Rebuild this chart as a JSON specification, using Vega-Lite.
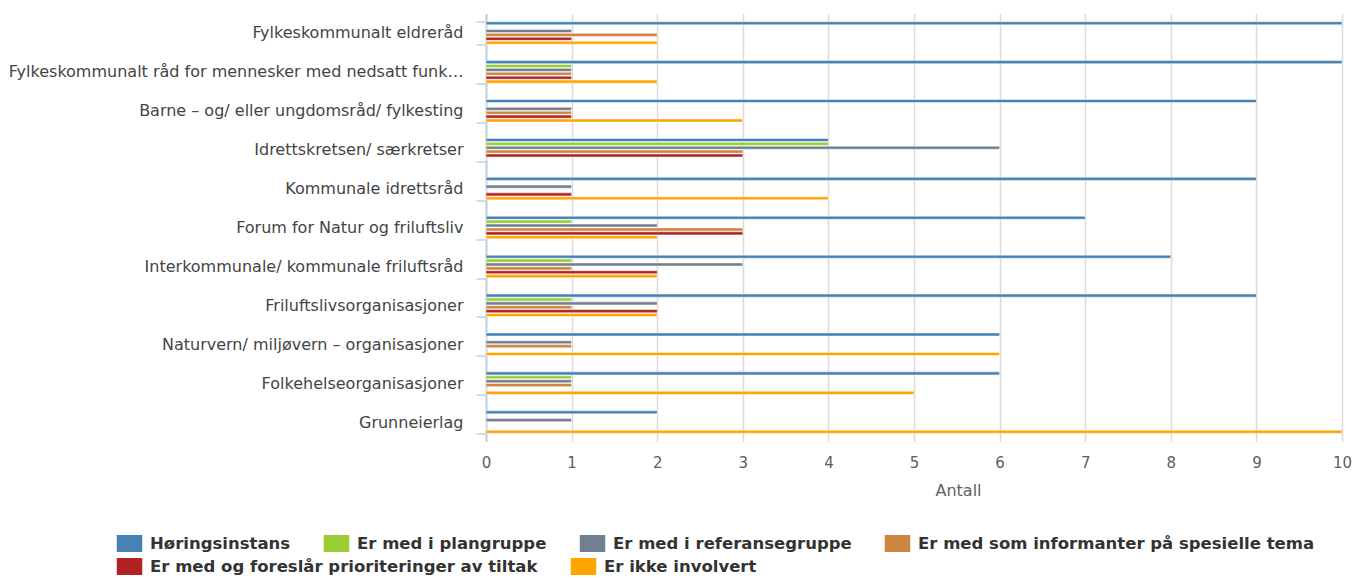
{
  "$schema": "https://vega.github.io/schema/vega-lite/v6.json",
  "width": 856,
  "height": 428,
  "autosize": "none",
  "padding": {"left": 486, "top": 13.5, "right": 17, "bottom": 136.5},
  "background": "white",
  "config": {
    "font": "DejaVu Sans",
    "view": {"stroke": null},
    "legend": {
      "title": null,
      "orient": "none",
      "direction": "horizontal",
      "padding": 0,
      "columnPadding": 32,
      "symbolType": "M-1.5,-1L1.5,-1L1.5,1L-1.5,1Z",
      "symbolSize": 289,
      "symbolStrokeWidth": 0,
      "symbolOpacity": 1,
      "labelFontSize": 16.5,
      "labelFontWeight": "bold",
      "labelColor": "#333333",
      "labelLimit": 600,
      "labelOffset": 12
    }
  },
  "datasets": {
    "rows": [
      {"k": "Fylkeskommunalt eldreråd", "t": "Høringsinstans", "v": 10},
      {"k": "Fylkeskommunalt eldreråd", "t": "Er med i plangruppe", "v": 0},
      {"k": "Fylkeskommunalt eldreråd", "t": "Er med i referansegruppe", "v": 1},
      {"k": "Fylkeskommunalt eldreråd", "t": "Er med som informanter på spesielle tema", "v": 2},
      {"k": "Fylkeskommunalt eldreråd", "t": "Er med og foreslår prioriteringer av tiltak", "v": 1},
      {"k": "Fylkeskommunalt eldreråd", "t": "Er ikke involvert", "v": 2},
      {"k": "Fylkeskommunalt råd for mennesker med nedsatt funksjonsevne", "t": "Høringsinstans", "v": 10},
      {"k": "Fylkeskommunalt råd for mennesker med nedsatt funksjonsevne", "t": "Er med i plangruppe", "v": 1},
      {"k": "Fylkeskommunalt råd for mennesker med nedsatt funksjonsevne", "t": "Er med i referansegruppe", "v": 1},
      {"k": "Fylkeskommunalt råd for mennesker med nedsatt funksjonsevne", "t": "Er med som informanter på spesielle tema", "v": 1},
      {"k": "Fylkeskommunalt råd for mennesker med nedsatt funksjonsevne", "t": "Er med og foreslår prioriteringer av tiltak", "v": 1},
      {"k": "Fylkeskommunalt råd for mennesker med nedsatt funksjonsevne", "t": "Er ikke involvert", "v": 2},
      {"k": "Barne – og/ eller ungdomsråd/ fylkesting", "t": "Høringsinstans", "v": 9},
      {"k": "Barne – og/ eller ungdomsråd/ fylkesting", "t": "Er med i plangruppe", "v": 0},
      {"k": "Barne – og/ eller ungdomsråd/ fylkesting", "t": "Er med i referansegruppe", "v": 1},
      {"k": "Barne – og/ eller ungdomsråd/ fylkesting", "t": "Er med som informanter på spesielle tema", "v": 1},
      {"k": "Barne – og/ eller ungdomsråd/ fylkesting", "t": "Er med og foreslår prioriteringer av tiltak", "v": 1},
      {"k": "Barne – og/ eller ungdomsråd/ fylkesting", "t": "Er ikke involvert", "v": 3},
      {"k": "Idrettskretsen/ særkretser", "t": "Høringsinstans", "v": 4},
      {"k": "Idrettskretsen/ særkretser", "t": "Er med i plangruppe", "v": 4},
      {"k": "Idrettskretsen/ særkretser", "t": "Er med i referansegruppe", "v": 6},
      {"k": "Idrettskretsen/ særkretser", "t": "Er med som informanter på spesielle tema", "v": 3},
      {"k": "Idrettskretsen/ særkretser", "t": "Er med og foreslår prioriteringer av tiltak", "v": 3},
      {"k": "Idrettskretsen/ særkretser", "t": "Er ikke involvert", "v": 0},
      {"k": "Kommunale idrettsråd", "t": "Høringsinstans", "v": 9},
      {"k": "Kommunale idrettsråd", "t": "Er med i plangruppe", "v": 0},
      {"k": "Kommunale idrettsråd", "t": "Er med i referansegruppe", "v": 1},
      {"k": "Kommunale idrettsråd", "t": "Er med som informanter på spesielle tema", "v": 0},
      {"k": "Kommunale idrettsråd", "t": "Er med og foreslår prioriteringer av tiltak", "v": 1},
      {"k": "Kommunale idrettsråd", "t": "Er ikke involvert", "v": 4},
      {"k": "Forum for Natur og friluftsliv", "t": "Høringsinstans", "v": 7},
      {"k": "Forum for Natur og friluftsliv", "t": "Er med i plangruppe", "v": 1},
      {"k": "Forum for Natur og friluftsliv", "t": "Er med i referansegruppe", "v": 2},
      {"k": "Forum for Natur og friluftsliv", "t": "Er med som informanter på spesielle tema", "v": 3},
      {"k": "Forum for Natur og friluftsliv", "t": "Er med og foreslår prioriteringer av tiltak", "v": 3},
      {"k": "Forum for Natur og friluftsliv", "t": "Er ikke involvert", "v": 2},
      {"k": "Interkommunale/ kommunale friluftsråd", "t": "Høringsinstans", "v": 8},
      {"k": "Interkommunale/ kommunale friluftsråd", "t": "Er med i plangruppe", "v": 1},
      {"k": "Interkommunale/ kommunale friluftsråd", "t": "Er med i referansegruppe", "v": 3},
      {"k": "Interkommunale/ kommunale friluftsråd", "t": "Er med som informanter på spesielle tema", "v": 1},
      {"k": "Interkommunale/ kommunale friluftsråd", "t": "Er med og foreslår prioriteringer av tiltak", "v": 2},
      {"k": "Interkommunale/ kommunale friluftsråd", "t": "Er ikke involvert", "v": 2},
      {"k": "Friluftslivsorganisasjoner", "t": "Høringsinstans", "v": 9},
      {"k": "Friluftslivsorganisasjoner", "t": "Er med i plangruppe", "v": 1},
      {"k": "Friluftslivsorganisasjoner", "t": "Er med i referansegruppe", "v": 2},
      {"k": "Friluftslivsorganisasjoner", "t": "Er med som informanter på spesielle tema", "v": 1},
      {"k": "Friluftslivsorganisasjoner", "t": "Er med og foreslår prioriteringer av tiltak", "v": 2},
      {"k": "Friluftslivsorganisasjoner", "t": "Er ikke involvert", "v": 2},
      {"k": "Naturvern/ miljøvern – organisasjoner", "t": "Høringsinstans", "v": 6},
      {"k": "Naturvern/ miljøvern – organisasjoner", "t": "Er med i plangruppe", "v": 0},
      {"k": "Naturvern/ miljøvern – organisasjoner", "t": "Er med i referansegruppe", "v": 1},
      {"k": "Naturvern/ miljøvern – organisasjoner", "t": "Er med som informanter på spesielle tema", "v": 1},
      {"k": "Naturvern/ miljøvern – organisasjoner", "t": "Er med og foreslår prioriteringer av tiltak", "v": 0},
      {"k": "Naturvern/ miljøvern – organisasjoner", "t": "Er ikke involvert", "v": 6},
      {"k": "Folkehelseorganisasjoner", "t": "Høringsinstans", "v": 6},
      {"k": "Folkehelseorganisasjoner", "t": "Er med i plangruppe", "v": 1},
      {"k": "Folkehelseorganisasjoner", "t": "Er med i referansegruppe", "v": 1},
      {"k": "Folkehelseorganisasjoner", "t": "Er med som informanter på spesielle tema", "v": 1},
      {"k": "Folkehelseorganisasjoner", "t": "Er med og foreslår prioriteringer av tiltak", "v": 0},
      {"k": "Folkehelseorganisasjoner", "t": "Er ikke involvert", "v": 5},
      {"k": "Grunneierlag", "t": "Høringsinstans", "v": 2},
      {"k": "Grunneierlag", "t": "Er med i plangruppe", "v": 0},
      {"k": "Grunneierlag", "t": "Er med i referansegruppe", "v": 1},
      {"k": "Grunneierlag", "t": "Er med som informanter på spesielle tema", "v": 0},
      {"k": "Grunneierlag", "t": "Er med og foreslår prioriteringer av tiltak", "v": 0},
      {"k": "Grunneierlag", "t": "Er ikke involvert", "v": 10}
    ]
  },
  "data": {"name": "rows"},
  "encoding": {
    "y": {
      "field": "k",
      "type": "nominal",
      "sort": null,
      "scale": {"paddingInner": 0.4, "paddingOuter": 0.2},
      "axis": {
        "title": null,
        "ticks": true,
        "tickBand": "extent",
        "tickSize": 10,
        "tickColor": "#C0D0E0",
        "tickWidth": 1.5,
        "domainColor": "#C0D0E0",
        "domainWidth": 2,
        "labelFontSize": 16,
        "labelColor": "#444444",
        "labelPadding": 13,
        "labelLimit": 455
      }
    },
    "yOffset": {
      "field": "t",
      "type": "nominal",
      "sort": null,
      "scale": {
        "domain": ["Høringsinstans", "Er med i plangruppe", "Er med i referansegruppe", "Er med som informanter på spesielle tema", "Er med og foreslår prioriteringer av tiltak", "Er ikke involvert"],
        "paddingInner": 0.2,
        "paddingOuter": 0.1
      }
    },
    "x": {
      "field": "v",
      "type": "quantitative",
      "scale": {"domain": [0, 10], "nice": false},
      "axis": {
        "title": "Antall",
        "titleFontSize": 16,
        "titleFontWeight": "normal",
        "titleColor": "#5f5f5f",
        "titlePadding": 12,
        "titleX": 472,
        "values": [0, 1, 2, 3, 4, 5, 6, 7, 8, 9, 10],
        "domain": false,
        "ticks": false,
        "grid": true,
        "gridColor": "#DADADA",
        "gridWidth": 1.5,
        "labelFlush": false,
        "labelFontSize": 15,
        "labelColor": "#606060",
        "labelPadding": 14
      }
    }
  },
  "layer": [
    {
      "transform": [{"filter": {"field": "t", "oneOf": ["Høringsinstans", "Er med i plangruppe", "Er med i referansegruppe", "Er med som informanter på spesielle tema"]}}],
      "mark": {"type": "bar", "stroke": "white", "strokeWidth": 0.5},
      "encoding": {
        "color": {
          "field": "t",
          "type": "nominal",
          "scale": {
            "domain": ["Høringsinstans", "Er med i plangruppe", "Er med i referansegruppe", "Er med som informanter på spesielle tema"],
            "range": ["#4682B4", "#9ACD32", "#708090", "#CD853F"]
          },
          "legend": {"legendX": -365, "legendY": 521.5, "columns": 4}
        }
      }
    },
    {
      "transform": [{"filter": {"field": "t", "oneOf": ["Er med og foreslår prioriteringer av tiltak", "Er ikke involvert"]}}],
      "mark": {"type": "bar", "stroke": "white", "strokeWidth": 0.5},
      "encoding": {
        "color": {
          "field": "t",
          "type": "nominal",
          "scale": {
            "domain": ["Er med og foreslår prioriteringer av tiltak", "Er ikke involvert"],
            "range": ["#B22222", "#FFA500"]
          },
          "legend": {"legendX": -365, "legendY": 544.5, "columns": 2}
        }
      }
    }
  ],
  "resolve": {"scale": {"color": "independent"}}
}
